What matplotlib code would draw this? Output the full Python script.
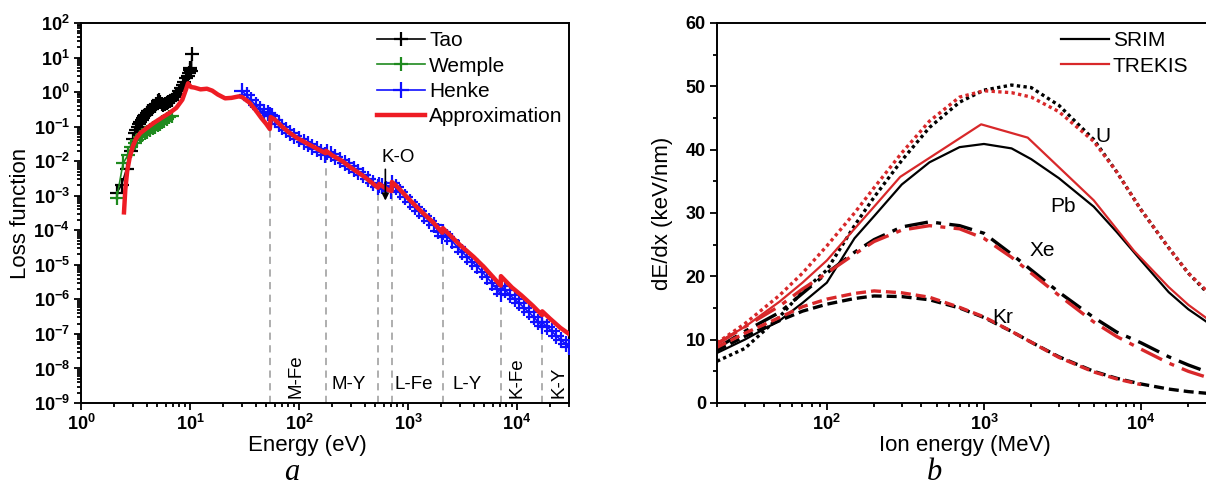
#!/usr/bin/env python3
import math
import matplotlib
matplotlib.use("Agg")
import matplotlib.pyplot as plt
from matplotlib.ticker import FixedLocator, FuncFormatter, LogLocator, MultipleLocator, NullFormatter

plt.rcParams['font.family'] = ['Liberation Sans', 'DejaVu Sans']
plt.rcParams['mathtext.fontset'] = 'custom'
plt.rcParams['mathtext.rm'] = 'Liberation Sans'
plt.rcParams['mathtext.bf'] = 'Liberation Sans:bold'

# ---- panel a: loss function ----
tao_e = [2.13, 2.36, 2.62, 2.85, 3.0, 3.1, 3.2, 3.3, 3.4, 3.5, 3.6, 3.7, 3.8, 3.9, 4.0,
         4.15, 4.3, 4.45, 4.6, 4.75, 4.9, 5.05, 5.2, 5.35, 5.5, 5.7, 5.9, 6.1, 6.3, 6.5,
         6.8, 7.1, 7.4, 7.7, 8.0, 8.3, 8.6, 8.9, 9.2, 9.5, 9.7, 9.9, 10.1, 10.3, 10.4]
tao_l = [1.2e-3, 2.1e-3, 6e-3, 2e-2, 4.5e-2, 6.5e-2, 8e-2, 0.1, 0.12, 0.14, 0.16, 0.18, 0.2,
         0.22, 0.25, 0.28, 0.3, 0.33, 0.36, 0.4, 0.45, 0.55, 0.6, 0.5, 0.45, 0.42, 0.45, 0.48,
         0.5, 0.55, 0.6, 0.7, 0.8, 0.9, 1.1, 1.3, 1.6, 2.0, 2.5, 3.0, 3.5, 4.5, 5.0, 4.0, 13.0]

wemple_e = [2.13, 2.43, 2.7, 2.9, 3.1, 3.26, 3.45, 3.65, 3.85, 4.05, 4.3, 4.55, 4.8, 5.05,
            5.3, 5.55, 5.8, 6.1, 6.4, 6.8]
wemple_l = [8.5e-4, 8.7e-3, 1.5e-2, 2.5e-2, 3.3e-2, 4e-2, 5e-2, 5.8e-2, 6.5e-2, 7.2e-2,
            8e-2, 9e-2, 0.1, 0.11, 0.12, 0.135, 0.15, 0.17, 0.19, 0.21]

henke_e = [30, 33, 36, 40, 44, 48, 52, 54, 56, 60, 65, 70, 76, 82, 90, 100, 110, 120, 132,
           145, 160, 175, 180, 195, 215, 240, 265, 290, 320, 350, 390, 430, 480, 530, 540,
           580, 630, 700, 710, 770, 850, 940, 1040, 1150, 1270, 1400, 1550, 1720, 1900, 2070,
           2090, 2300, 2550, 2850, 3150, 3500, 3900, 4300, 4800, 5300, 5900, 6500, 7100, 7120,
           7800, 8600, 9500, 10500, 11600, 12800, 14200, 15700, 17000, 17050, 18800, 20800,
           23000, 25500, 28000, 30000]
henke_l = [1.1, 0.8, 0.6, 0.42, 0.33, 0.27, 0.24, 0.22, 0.2, 0.16, 0.12, 0.095, 0.078, 0.064,
           0.052, 0.043, 0.036, 0.031, 0.026, 0.022, 0.018, 0.015, 0.018, 0.016, 0.013, 0.011,
           0.0088, 0.0073, 0.006, 0.0049, 0.0039, 0.0031, 0.0024, 0.0018, 0.0021, 0.0019,
           0.0016, 0.00135, 0.0023, 0.0018, 0.0013, 0.00094, 6.8e-4, 4.8e-4, 3.5e-4, 2.6e-4,
           1.9e-4, 1.4e-4, 9.5e-5, 7e-5, 9e-5, 6.5e-5, 4.8e-5, 3.2e-5, 2.3e-5, 1.7e-5, 1.2e-5,
           9e-6, 6.3e-6, 4.3e-6, 3.0e-6, 2.0e-6, 1.4e-6, 2.5e-6, 1.85e-6, 1.35e-6, 1.0e-6,
           7.8e-7, 5.7e-7, 4.3e-7, 3.1e-7, 2.2e-7, 1.7e-7, 2.2e-7, 1.6e-7, 1.2e-7, 8.7e-8,
           6.5e-8, 5.2e-8, 4.3e-8]

approx_e = [2.48, 2.55, 2.65, 2.8, 3.0, 3.2, 3.5, 4.0, 4.6, 5.5, 6.5, 7.5, 8.5, 9.2, 9.6,
            10.2, 11, 12.5, 14.3, 16, 18, 21, 24, 28, 30, 35, 40, 45, 50, 54, 55, 60, 70, 80,
            96, 120, 150, 175, 177, 200, 250, 300, 400, 531, 545, 650, 707, 712, 800, 1000,
            1300, 1700, 2070, 2090, 3000, 4000, 5000, 6000, 7100, 7120, 9000, 11000, 14000,
            17000, 17050, 20000, 25000, 30000]
approx_l = [3.3e-4, 1.5e-3, 5e-3, 1.3e-2, 2.8e-2, 4.5e-2, 6.5e-2, 9e-2, 0.125, 0.18, 0.25,
            0.35, 0.6, 1.2, 1.8, 1.4, 1.35, 1.2, 1.25, 1.1, 0.85, 0.66, 0.68, 0.75, 0.72, 0.5,
            0.3, 0.18, 0.12, 0.085, 0.19, 0.16, 0.1, 0.07, 0.047, 0.032, 0.022, 0.017, 0.02,
            0.015, 0.01, 0.0065, 0.0035, 0.0017, 0.0022, 0.0015, 0.00135, 0.0025, 0.0018,
            8.5e-4, 3.7e-4, 1.7e-4, 8.5e-5, 1.15e-4, 3.75e-5, 1.7e-5, 8.5e-6, 4.5e-6, 2.5e-6,
            4.7e-6, 2.2e-6, 1.3e-6, 6.5e-7, 3.5e-7, 4.5e-7, 2.8e-7, 1.5e-7, 1.0e-7]

edge_e = [54, 177, 532, 707, 2080, 7112, 17038]
edge_top = [0.085, 0.013, 1.5e-3, 1.1e-3, 8e-5, 1.2e-6, 1.7e-7]
edge_names = ['M-Fe', 'M-Y', 'L-Fe', 'L-Y', 'K-Fe', 'K-Y']
edge_name_x = [94, 287, 1140, 3500, 10000, 24300]
edge_name_rot = [90, 0, 0, 0, 90, 90]

# ---- panel b: stopping power ----
ion_e = [20, 30, 50, 70, 100, 150, 200, 300, 450, 700, 1000, 1500, 2000, 3000, 5000, 7000,
         10000, 15000, 20000, 30000]
u_srim = [6.6, 8.6, 13.6, 17.6, 21.0, 28.0, 32.5, 38.3, 43.5, 47.5, 49.4, 50.2, 49.8, 47.0,
          41.6, 36.5, 30.5, 24.5, 20.5, 16.0]
u_trekis = [9.5, 12.5, 17.0, 20.5, 24.8, 30.0, 34.0, 39.5, 44.5, 48.3, 49.3, 49.0, 48.3, 46.0,
            41.3, 36.5, 30.5, 24.5, 20.5, 16.3]
pb_srim = [7.9, 10.0, 13.0, 15.8, 19.0, 26.0, 29.5, 34.5, 38.0, 40.4, 40.9, 40.2, 38.5, 35.5,
           31.0, 27.0, 22.5, 17.5, 14.8, 11.8]
pb_trekis_e = [20, 30, 50, 70, 100, 150, 200, 293, 960, 1900, 5000, 9040, 15000, 20000, 30000]
pb_trekis = [9.5, 12.0, 16.0, 19.0, 22.5, 27.5, 31.0, 35.7, 44.0, 41.9, 32.0, 24.0, 18.3, 15.5,
             12.3]
xe_srim = [8.7, 11.3, 14.3, 17.3, 20.5, 23.8, 25.8, 27.8, 28.6, 28.0, 26.8, 23.5, 21.0, 17.5,
           13.5, 11.2, 9.5, 7.3, 6.0, 4.4]
xe_trekis = [9.3, 12.0, 15.3, 18.0, 20.5, 23.5, 25.5, 27.3, 28.0, 27.5, 26.0, 23.0, 20.5, 17.0,
             12.8, 10.5, 8.5, 6.3, 5.0, 3.6]
kr_srim = [8.3, 10.5, 13.0, 14.5, 15.6, 16.5, 16.9, 16.8, 16.3, 15.0, 13.5, 11.3, 9.6, 7.3,
           5.0, 3.9, 3.0, 2.2, 1.8, 1.4]
kr_trekis = [8.8, 11.0, 13.5, 15.2, 16.4, 17.3, 17.7, 17.4, 16.7, 15.1, 13.6, 11.3, 9.6, 7.2,
             4.9, 3.8, 2.9]

red_a = '#ee1c24'
red_b = '#d8282a'

fig = plt.figure(figsize=(12.06, 4.95), dpi=100)
ax1 = fig.add_axes([0.06716, 0.18586, 0.40464, 0.76768])
ax2 = fig.add_axes([0.59453, 0.18586, 0.41376, 0.76768])

# panel a
ax1.vlines(edge_e, 1e-9, edge_top, colors='#a8a8a8', linestyles=(0, (4, 3)), lw=1.3, zorder=1)
ax1.plot(tao_e, tao_l, color='black', marker='+', ms=10, mew=1.6, lw=1.2, label='Tao', zorder=3)
ax1.plot(wemple_e, wemple_l, color='#1f8a1f', marker='+', ms=10, mew=1.6, lw=1.2, label='Wemple', zorder=4)
ax1.plot(henke_e, henke_l, color='#1010ff', marker='+', ms=11, mew=1.6, lw=1.2, label='Henke', zorder=3)
ax1.plot(approx_e, approx_l, color=red_a, lw=3.2, label='Approximation', zorder=5)
ax1.set_xscale('log')
ax1.set_yscale('log')
ax1.set_xlim(1, 3e4)
ax1.set_ylim(1e-9, 1e2)

ax1.annotate('', xy=(620, 6e-4), xytext=(620, 7e-3),
             arrowprops=dict(arrowstyle='-|>', color='black', lw=1.2, mutation_scale=10), zorder=6)
ax1.text(810, 1.3e-2, 'K-O', fontsize=13.5, ha='center', va='center')
for name, x, rot in zip(edge_names, edge_name_x, edge_name_rot):
    if rot == 90:
        ax1.text(x, 1.35e-9, name, rotation=90, fontsize=13.5, ha='center', va='bottom')
    else:
        ax1.text(x, 3.5e-9, name, fontsize=13.5, ha='center', va='center')

ax1.legend(loc='upper left', bbox_to_anchor=(0.59, 1.0), frameon=False, fontsize=15,
           handlelength=2.3, handletextpad=0.2, labelspacing=0.3, borderaxespad=0)

ax1.xaxis.set_major_locator(FixedLocator([1, 10, 100, 1000, 10000]))
ax1.yaxis.set_major_locator(FixedLocator([10.0 ** k for k in range(-9, 3)]))
ax1.xaxis.set_minor_locator(LogLocator(base=10, subs=range(2, 10), numticks=20))
ax1.yaxis.set_minor_locator(LogLocator(base=10, subs=range(2, 10), numticks=30))
ax1.xaxis.set_minor_formatter(NullFormatter())
ax1.yaxis.set_minor_formatter(NullFormatter())
dec_fmt = FuncFormatter(lambda v, p: r'$\mathbf{10^{%d}}$' % round(math.log10(v)))
ax1.xaxis.set_major_formatter(dec_fmt)
ax1.yaxis.set_major_formatter(dec_fmt)
ax1.set_xlabel('Energy (eV)', fontsize=16)
ax1.set_ylabel('Loss function', fontsize=16)
ax1.xaxis.set_label_coords(0.463, -0.085)
ax1.yaxis.set_label_coords(-0.102, 0.5)

# panel b
ax2.plot(ion_e, u_srim, color='black', ls=(0, (1, 1)), lw=2.4)
ax2.plot(ion_e, u_trekis, color=red_b, ls=(0, (1, 1)), lw=2.4)
ax2.plot(ion_e, pb_srim, color='black', lw=1.6, label='SRIM')
ax2.plot(pb_trekis_e, pb_trekis, color=red_b, lw=1.6, label='TREKIS')
ax2.plot(ion_e, xe_srim, color='black', ls=(0, (7, 2.5, 1.5, 2.5)), lw=2.4)
ax2.plot(ion_e, xe_trekis, color=red_b, ls=(0, (7, 2.5, 1.5, 2.5)), lw=2.4)
ax2.plot(ion_e, kr_srim, color='black', ls=(0, (3, 1.5)), lw=2.4)
ax2.plot(ion_e[:len(kr_trekis)], kr_trekis, color=red_b, ls=(0, (3, 1.5)), lw=2.4)
ax2.set_xscale('log')
ax2.set_xlim(20, 3e4)
ax2.set_ylim(0, 60)
ax2.text(5750, 42, 'U', fontsize=15, ha='center', va='center')
ax2.text(3170, 31, 'Pb', fontsize=15, ha='center', va='center')
ax2.text(2340, 24, 'Xe', fontsize=15, ha='center', va='center')
ax2.text(1320, 13.5, 'Kr', fontsize=15, ha='center', va='center')
ax2.legend(loc='upper left', bbox_to_anchor=(0.672, 1.0), frameon=False, fontsize=15,
           handlelength=2.3, handletextpad=0.2, labelspacing=0.3, borderaxespad=0)

ax2.xaxis.set_major_locator(FixedLocator([100, 1000, 10000]))
ax2.xaxis.set_minor_locator(LogLocator(base=10, subs=range(2, 10), numticks=20))
ax2.xaxis.set_minor_formatter(NullFormatter())
ax2.xaxis.set_major_formatter(dec_fmt)
ax2.yaxis.set_major_locator(MultipleLocator(10))
ax2.yaxis.set_minor_locator(MultipleLocator(5))
ax2.set_xlabel('Ion energy (MeV)', fontsize=16)
ax2.set_ylabel('dE/dx (keV/nm)', fontsize=16)
ax2.yaxis.set_label_coords(-0.088, 0.5)
ax2.xaxis.set_label_coords(0.497, -0.085)

for ax in (ax1, ax2):
    for s in ax.spines.values():
        s.set_linewidth(1.4)
    ax.tick_params(which='both', direction='out', top=False, right=False, width=1.3)
    ax.tick_params(which='major', length=5, labelsize=13, pad=3)
    ax.tick_params(which='minor', length=3)
for lab in ax2.get_yticklabels():
    lab.set_fontweight('bold')

fig.text(292 / 1206, 1 - 472 / 495, 'a', fontsize=22, style='italic',
         family='Liberation Serif', ha='center', va='center')
fig.text(934 / 1206, 1 - 472 / 495, 'b', fontsize=22, style='italic',
         family='Liberation Serif', ha='center', va='center')

fig.savefig('out.png', dpi=100)
